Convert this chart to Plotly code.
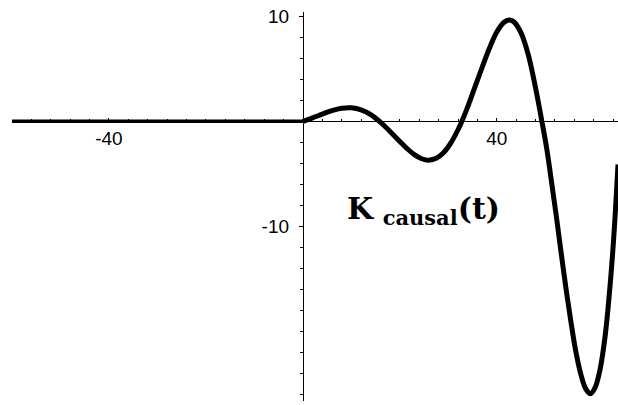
import plotly.graph_objects as go

# K_causal(t): zero for negative time, growing oscillation afterwards
t_before = [-60, 0]
k_before = [0, 0]

t_after = [0, 2, 4, 6, 8, 10, 12, 14, 15.8,
           17, 18.5, 20, 21.5, 23, 24.5, 26, 27.5, 29, 30.5, 32, 32.8,
           34, 35.5, 37, 38.5, 40, 41.5, 42.5, 43.5, 45, 46.5, 48, 49.3,
           50.3, 51.3, 52.3, 53.3, 54.3, 55.3, 56.3, 57.3, 58.3, 59.3,
           60.3, 61.3, 62.3, 63.2, 64.1, 65]
k_after = [0, 0.33, 0.69, 1.02, 1.24, 1.29, 1.10, 0.64, 0,
           -0.51, -1.20, -1.91, -2.59, -3.17, -3.56, -3.69, -3.52, -2.99, -2.07, -0.80, 0,
           1.37, 3.28, 5.17, 6.98, 8.5, 9.42, 9.64, 9.47, 8.41, 6.32, 3.17, 0,
           -2.6, -5.8, -9.1, -12.6, -16.0, -19.1, -21.9, -24.0, -25.4, -25.9,
           -25.3, -23.6, -20.6, -16.5, -11.2, -4.1]

x_ticks = [-40, 40]
y_ticks = [10, -10]

x_range = [-60, 65]
y_range = [-26.6, 10.4]

fig = go.Figure()
fig.add_trace(go.Scatter(x=t_before, y=k_before, mode="lines",
                         line=dict(color="black", width=3.5), hoverinfo="skip"))
fig.add_trace(go.Scatter(x=t_after, y=k_after, mode="lines",
                         line=dict(color="black", width=5, shape="spline",
                                   smoothing=1, simplify=False),
                         hoverinfo="skip"))

# axes cross at the origin
x_pos = (0 - y_range[0]) / (y_range[1] - y_range[0])
y_pos = (0 - x_range[0]) / (x_range[1] - x_range[0])

tick_font = dict(family="Liberation Sans, Arial, sans-serif", size=19, color="black")

# label position in pixels, converted to paper fractions of the data area
m_l, m_r, m_t, m_b = 12, 0, 12, 4
plot_w = 618 - m_l - m_r
plot_h = 405 - m_t - m_b
label_px, label_py = 423, 210

fig.update_layout(
    width=618, height=405,
    margin=dict(l=m_l, r=m_r, t=m_t, b=m_b),
    paper_bgcolor="white", plot_bgcolor="white",
    showlegend=False,
    xaxis=dict(
        range=x_range, anchor="free", position=x_pos,
        showline=True, linecolor="black", linewidth=1,
        showgrid=False, zeroline=False,
        tickvals=x_ticks, ticktext=[str(v) for v in x_ticks],
        ticks="inside", ticklen=3, tickcolor="black", tickwidth=1,
        tickfont=tick_font,
        minor=dict(dtick=4, tick0=0, ticks="inside", ticklen=2, tickcolor="black", showgrid=False),
    ),
    yaxis=dict(
        range=y_range, anchor="free", position=y_pos,
        showline=True, linecolor="black", linewidth=1,
        showgrid=False, zeroline=False,
        tickvals=y_ticks, ticktext=[str(v) for v in y_ticks],
        ticks="outside", ticklen=4, tickcolor="black", tickwidth=1,
        ticklabelstandoff=6,
        tickfont=tick_font,
        minor=dict(dtick=2, tick0=0, ticks="outside", ticklen=3, tickcolor="black", showgrid=False),
    ),
    annotations=[
        dict(x=(label_px - m_l) / plot_w, y=1 - (label_py - m_t) / plot_h,
             xref="paper", yref="paper", xanchor="center", yanchor="middle",
             showarrow=False,
             text="<b>K</b> <sub><b>causal</b></sub><b>(t)</b>",
             font=dict(family="DejaVu Serif, serif", size=30, color="black")),
    ],
)

fig.write_html("out.html")
